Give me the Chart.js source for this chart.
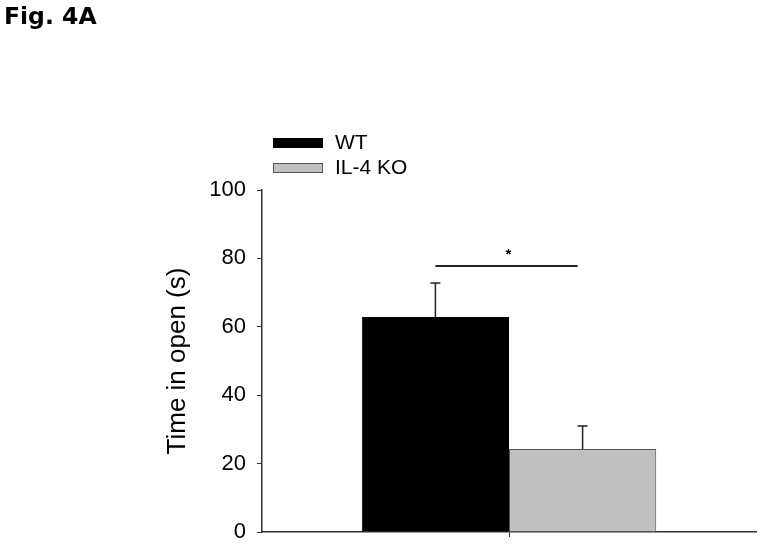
<!DOCTYPE html>
<html>
<head>
<meta charset="utf-8">
<title>Fig. 4A</title>
<script src="https://cdn.jsdelivr.net/npm/chart.js@4.4.1/dist/chart.umd.min.js"></script>
<style>
  html, body { margin: 0; padding: 0; background: #fff; }
  #wrap { position: relative; width: 762px; height: 548px; }
  #figTitle {
    position: absolute; left: 4px; top: 2px; margin: 0;
    font: bold 23.5px "DejaVu Sans", Verdana, sans-serif; color: #000;
  }
</style>
</head>
<body>
<div id="wrap">
  <p id="figTitle">Fig. 4A</p>
  <canvas id="chart" width="762" height="548"></canvas>
</div>
<script>
// groups and values
const groups = ['WT', 'IL-4 KO'];
const means = [62.9, 24.3];
const errors = [9.9, 6.7];        // upper error (SEM)
const fills = ['#000000', '#c0c0c0'];
const borders = ['#000000', '#555555'];
const yTicks = [0, 20, 40, 60, 80, 100];
const sigPair = [0, 1];
const sigY = 77.8;
const sigLabel = '*';

const FONT = '"Liberation Sans", Arial, sans-serif';

// error bars + significance bracket, drawn through the scales
const annotate = {
  id: 'annotate',
  afterDatasetsDraw(chart) {
    const ctx = chart.ctx;
    const y = chart.scales.y;
    const centers = [];
    ctx.save();
    ctx.strokeStyle = '#222';
    ctx.lineWidth = 1.5;
    chart.data.datasets.forEach((ds, i) => {
      const bar = chart.getDatasetMeta(i).data[0];
      centers.push(bar.x);
      const top = y.getPixelForValue(means[i] + errors[i]);
      ctx.beginPath();
      ctx.moveTo(bar.x, y.getPixelForValue(means[i]));
      ctx.lineTo(bar.x, top);
      ctx.moveTo(bar.x - 5, top);
      ctx.lineTo(bar.x + 5, top);
      ctx.stroke();
    });
    const sy = y.getPixelForValue(sigY);
    const x1 = centers[sigPair[0]];
    const x2 = centers[sigPair[1]] - 5;
    ctx.lineWidth = 2;
    ctx.beginPath();
    ctx.moveTo(x1, sy);
    ctx.lineTo(x2, sy);
    ctx.stroke();
    ctx.fillStyle = '#000';
    ctx.font = 'bold 15px ' + FONT;
    ctx.textAlign = 'center';
    ctx.textBaseline = 'middle';
    ctx.fillText(sigLabel, (x1 + x2) / 2 + 2, sy - 11);
    ctx.restore();
  }
};

// vertical legend at the top left of the plot
const sideLegend = {
  id: 'sideLegend',
  afterDraw(chart) {
    const ctx = chart.ctx;
    ctx.save();
    ctx.font = '21px ' + FONT;
    ctx.textBaseline = 'middle';
    ctx.textAlign = 'left';
    groups.forEach((g, i) => {
      const top = 138 + i * 25;
      ctx.fillStyle = fills[i];
      ctx.fillRect(273, top, 50, 10);
      ctx.strokeStyle = borders[i];
      ctx.lineWidth = 1;
      ctx.strokeRect(273.5, top + 0.5, 49, 9);
      ctx.fillStyle = '#000';
      ctx.fillText(g, 335, top + 5);
    });
    ctx.restore();
  }
};

new Chart(document.getElementById('chart'), {
  type: 'bar',
  data: {
    labels: [''],
    datasets: groups.map((g, i) => ({
      label: g,
      data: [means[i]],
      backgroundColor: fills[i],
      borderColor: borders[i],
      borderWidth: 1,
      barPercentage: 1,
      categoryPercentage: 0.596,
    }))
  },
  options: {
    responsive: false,
    animation: false,
    layout: { padding: { left: 162, top: 190, right: 6, bottom: 0 } },
    plugins: {
      legend: { display: false },
      tooltip: { enabled: false }
    },
    scales: {
      x: {
        grid: { offset: false, drawOnChartArea: false, drawTicks: true, tickLength: 5, color: '#333' },
        border: { display: true, color: '#333', width: 1.5 },
        ticks: { display: false },
        afterFit: (s) => { s.height = 16; }
      },
      y: {
        min: 0,
        max: 100,
        afterBuildTicks: (s) => { s.ticks = yTicks.map(v => ({ value: v })); },
        grid: { drawOnChartArea: false, drawTicks: true, tickLength: 5, color: '#333' },
        border: { display: true, color: '#333', width: 1.5 },
        ticks: { font: { family: FONT, size: 22 }, color: '#000', padding: 11 },
        title: {
          display: true,
          text: 'Time in open (s)',
          font: { family: FONT, size: 26 },
          color: '#000',
          padding: { top: 0, bottom: 0 }
        },
        afterFit: (s) => {
          s.width = 100;
          s.paddingTop = 0;
          s.paddingBottom = 0;
        }
      }
    }
  },
  plugins: [annotate, sideLegend]
});
</script>
</body>
</html>
